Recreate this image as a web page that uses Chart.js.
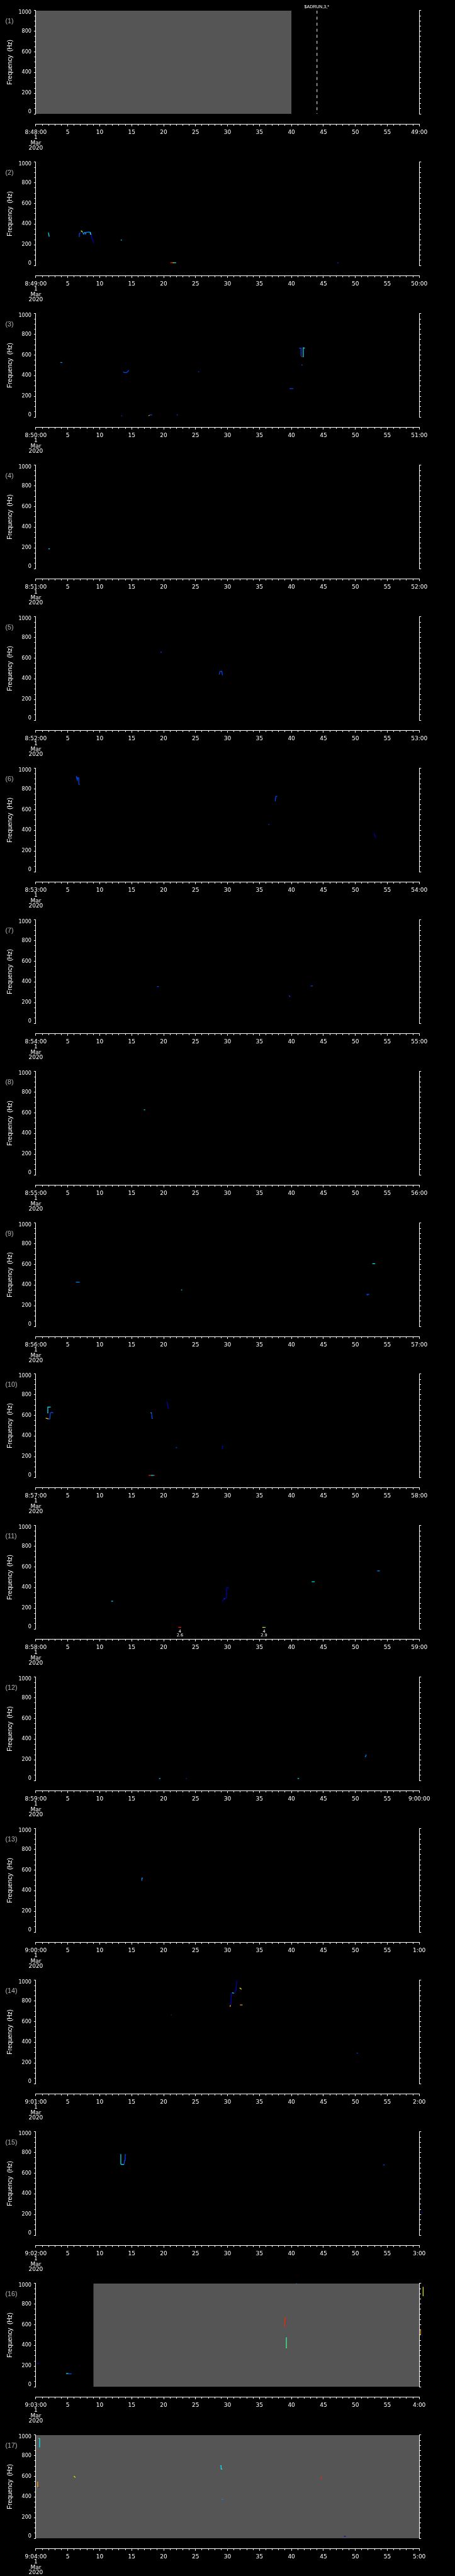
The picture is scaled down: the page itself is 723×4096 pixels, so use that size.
<!DOCTYPE html>
<html><head><meta charset="utf-8">
<script src="https://cdn.jsdelivr.net/npm/chart.js@4.4.1/dist/chart.umd.min.js"></script>
<style>
html,body{margin:0;padding:0;background:#000;}
#wrap{position:relative;width:723px;height:4096px;overflow:hidden;background:#000;}
canvas{position:absolute;left:0;}
</style></head><body><div id="wrap"></div>
<script>
// ---------------- DATA ----------------
const firstLabels = ['8:48:00','8:49:00','8:50:00','8:51:00','8:52:00','8:53:00','8:54:00','8:55:00','8:56:00','8:57:00','8:58:00','8:59:00','9:00:00','9:01:00','9:02:00','9:03:00','9:04:00'];
const lastLabels  = ['49:00','50:00','51:00','52:00','53:00','54:00','55:00','56:00','57:00','58:00','59:00','9:00:00','1:00','2:00','3:00','4:00','5:00'];
const midLabels   = ['5','10','15','20','25','30','35','40','45','50','55'];
const dateLines   = ['1','Mar','2020'];
const yTickLabels = ['0','200','400','600','800','1000'];
const panelNames  = ['(1)','(2)','(3)','(4)','(5)','(6)','(7)','(8)','(9)','(10)','(11)','(12)','(13)','(14)','(15)','(16)','(17)'];
const yTitle = 'Frequency  (Hz)';

// grey (data coverage) intervals in seconds, per panel
const grayFrom = [0, null,null,null,null,null,null,null,null,null,null,null,null,null,null, 9, 0];
const grayTo   = [40,null,null,null,null,null,null,null,null,null,null,null,null,null,null,60,60];

// event marker (panel 1)
const markerPanel = 0, markerTime = 44, markerText = '$ADRUN,3,*';
// small notes under the axis (panel 11)
const notePanel = 10;
const noteTimes = [22.55, 35.7];
const noteTexts = [['4','2.6'],['4','2.9']];

// traces: lv = intensity level (0 low .. 7 high), pts = [seconds, Hz]
const traces01 = [];
const traces02 = [
 {lv:3, pts:[[1.97,320],[2.1,278]]},
 {lv:1, pts:[[6.77,278],[6.8,305],[6.9,313],[7.0,318]]},
 {lv:5, pts:[[7.05,335],[7.2,332],[7.3,320]]},
 {lv:2, pts:[[7.35,318],[7.5,303],[7.6,320],[7.75,318],[7.8,305],[7.9,320],[8.2,323],[8.5,323]]},
 {lv:3, pts:[[8.5,323],[8.55,303],[8.68,303]]},
 {lv:0, pts:[[8.7,303],[8.75,260],[8.9,250],[9.05,218]]},
 {lv:3, pts:[[13.3,249],[13.45,242]]},
 {lv:7, pts:[[21.05,26],[21.4,26]]},
 {lv:5, pts:[[21.4,26],[21.65,26]]},
 {lv:3, pts:[[21.65,26],[21.96,26]]},
 {lv:1, pts:[[47.2,26],[47.35,26]]}
];
const traces03 = [
 {lv:2, pts:[[3.83,528],[4.15,528]]},
 {lv:1, pts:[[13.7,438],[13.8,430],[14.2,430],[14.4,440],[14.55,453]]},
 {lv:1, pts:[[13.35,11],[13.5,11]]},
 {lv:6, pts:[[17.65,11],[17.8,18]]},
 {lv:1, pts:[[17.85,20],[18.2,20]]},
 {lv:1, pts:[[22.05,20],[22.2,20]]},
 {lv:1, pts:[[25.4,438],[25.55,438]]},
 {lv:1, pts:[[39.7,275],[40.3,275]]},
 {lv:1, pts:[[41.55,504],[41.75,504]]},
 {lv:1, pts:[[41.2,667],[41.5,667],[41.5,590]]},
 {lv:7, pts:[[41.55,588],[41.7,584]]},
 {lv:3, pts:[[41.8,582],[41.85,582],[41.85,670],[42.1,667]]}
];
const traces04 = [
 {lv:3, pts:[[1.97,191],[2.2,191]]}
];
const traces05 = [
 {lv:1, pts:[[19.5,658],[19.7,658]]},
 {lv:1, pts:[[28.7,441],[28.8,470],[28.93,473],[29.1,473],[29.2,435]]}
];
const traces06 = [
 {lv:1, pts:[[6.32,924],[6.41,905],[6.5,890],[6.55,909],[6.73,909],[6.73,849],[6.86,840]]},
 {lv:1, pts:[[36.4,457],[36.55,457]]},
 {lv:1, pts:[[37.46,682],[37.55,729],[37.78,729]]},
 {lv:0, pts:[[52.97,372],[53.06,348],[53.15,325]]}
];
const traces07 = [
 {lv:1, pts:[[18.97,356],[19.24,356]]},
 {lv:1, pts:[[39.64,270],[39.77,255]]},
 {lv:1, pts:[[43.0,361],[43.35,361]]}
];
const traces08 = [
 {lv:3, pts:[[16.9,630],[17.1,630]]}
];
const traces09 = [
 {lv:2, pts:[[6.27,428],[6.86,428]]},
 {lv:3, pts:[[22.73,353],[22.9,353]]},
 {lv:1, pts:[[51.74,310],[52.2,310]]},
 {lv:1, pts:[[51.88,310],[51.9,299]]},
 {lv:3, pts:[[52.65,607],[53.1,607]]}
];
const traces10 = [
 {lv:5, pts:[[1.55,574],[1.75,570],[2.0,566]]},
 {lv:3, pts:[[1.8,624],[1.88,624],[1.88,680],[2.33,680]]},
 {lv:1, pts:[[2.05,566],[2.2,564],[2.28,624],[2.47,630],[2.74,624]]},
 {lv:3, pts:[[17.97,626],[18.1,624]]},
 {lv:1, pts:[[18.1,624],[18.2,570],[18.33,570]]},
 {lv:0, pts:[[20.5,733],[20.6,714],[20.7,673],[20.78,667]]},
 {lv:1, pts:[[21.9,288],[22.1,288]]},
 {lv:0, pts:[[29.2,271],[29.2,299],[29.4,299]]},
 {lv:7, pts:[[17.65,19],[17.97,19]]},
 {lv:3, pts:[[17.97,19],[18.45,19]]},
 {lv:7, pts:[[18.45,19],[18.65,19]]}
];
const traces11 = [
 {lv:3, pts:[[11.8,268],[12.08,268]]},
 {lv:0, pts:[[29.2,264],[29.4,292],[29.66,298],[29.75,298],[29.84,399],[30.2,399]]},
 {lv:3, pts:[[29.45,292],[29.6,296]]},
 {lv:3, pts:[[43.17,457],[43.63,457]]},
 {lv:2, pts:[[53.42,562],[53.83,562]]},
 {lv:7, pts:[[22.3,15],[22.75,15]]},
 {lv:5, pts:[[35.45,15],[35.75,15]]},
 {lv:4, pts:[[35.75,15],[35.95,15]]}
];
const traces12 = [
 {lv:3, pts:[[19.28,19],[19.5,19]]},
 {lv:1, pts:[[23.5,19],[23.6,19]]},
 {lv:3, pts:[[40.95,19],[41.2,19]]},
 {lv:2, pts:[[51.5,228],[51.6,232],[51.7,250]]}
];
const traces13 = [
 {lv:2, pts:[[16.56,500],[16.6,522],[16.75,522]]}
];
const traces14 = [
 {lv:1, pts:[[21.15,667],[21.24,667]]},
 {lv:1, pts:[[50.2,296],[50.4,296]]},
 {lv:6, pts:[[30.4,743],[30.45,762]]},
 {lv:0, pts:[[30.53,762],[30.62,880],[30.71,880]]},
 {lv:4, pts:[[30.71,880],[31.0,876]]},
 {lv:0, pts:[[31.0,876],[31.12,876],[31.25,903],[31.35,903],[31.43,993],[31.43,1000]]},
 {lv:5, pts:[[31.85,925],[32.03,925],[32.16,912]]},
 {lv:6, pts:[[31.95,762],[32.35,762]]}
];
const traces15 = [
 {lv:3, pts:[[13.3,785],[13.3,688],[13.45,685],[13.8,685]]},
 {lv:1, pts:[[13.8,685],[13.9,725],[13.98,779],[14.12,779]]},
 {lv:1, pts:[[54.35,680],[54.6,680]]},
 {lv:0, pts:[[60.25,223],[60.5,218]]}
];
const traces16 = [
 {lv:0, pts:[[0.2,231],[0.5,222]]},
 {lv:3, pts:[[4.73,128],[5.1,128]]},
 {lv:1, pts:[[5.1,126],[5.6,124]]},
 {lv:2, pts:[[40.73,998],[40.86,998]]},
 {lv:7, pts:[[38.95,581],[38.95,665],[39.2,663]]},
 {lv:1, pts:[[39.05,482],[39.15,480]]},
 {lv:4, pts:[[39.2,480],[39.2,377],[39.3,377]]},
 {lv:5, pts:[[60.6,967],[60.6,878]]},
 {lv:6, pts:[[60.2,556],[60.2,499],[60.35,499]]},
 {lv:0, pts:[[60.4,499],[60.55,491]]}
];
const traces17 = [
 {lv:5, pts:[[0.45,967],[0.55,967]]},
 {lv:3, pts:[[0.6,967],[0.6,880]]},
 {lv:6, pts:[[0.29,549],[0.29,501],[0.4,501]]},
 {lv:0, pts:[[0.45,497],[0.52,490]]},
 {lv:5, pts:[[5.96,602],[6.19,589]]},
 {lv:3, pts:[[28.85,704],[28.99,704],[28.99,673],[29.17,669]]},
 {lv:5, pts:[[29.05,671],[29.12,669]]},
 {lv:2, pts:[[29.08,377],[29.3,377]]},
 {lv:7, pts:[[44.63,593],[44.7,583]]},
 {lv:0, pts:[[48.2,19],[48.5,19]]}
];
const allTraces = [traces01,traces02,traces03,traces04,traces05,traces06,traces07,traces08,traces09,traces10,traces11,traces12,traces13,traces14,traces15,traces16,traces17];

// ---------------- STYLE / LAYOUT ----------------
const K = 0.705;
const W = 723, H = 4096, N = 17, PH = H / N;
const levelColors = ['#0000c0','#0048ff','#0090ff','#00e8ff','#40ff90','#f0f000','#ffa000','#ff2000'];
const geo = {left: 80.7*K, right: 945*K, top: 24*K, bottom: 256.8*K, axis: 280.7*K};

Chart.defaults.font.family = 'DejaVu Sans';
Chart.defaults.color = '#fff';
Chart.defaults.elements.point.radius = 0;
Chart.defaults.elements.line.tension = 0;

const annot = {
  id: 'annot',
  afterDraw(chart, args, o) {
    const ctx = chart.ctx, xs = chart.scales.x;
    ctx.save();
    ctx.fillStyle = '#b4b4b4';
    ctx.font = '10.7px "Liberation Sans"';
    ctx.textAlign = 'left'; ctx.textBaseline = 'middle';
    ctx.fillText(o.name, 12*K, 47.8*K);
    ctx.fillStyle = '#fff';
    if (o.marker) {
      ctx.font = '7px "Liberation Sans"';
      ctx.textAlign = 'center';
      ctx.fillText(markerText, xs.getPixelForValue(markerTime) - 0.5, 15.5*K);
    }
    if (o.notes) {
      ctx.font = '6.5px "DejaVu Sans"';
      ctx.textAlign = 'center';
      noteTimes.forEach((t, j) => {
        const px = xs.getPixelForValue(t);
        ctx.fillText(noteTexts[j][0], px, 262.4*K);
        ctx.fillText(noteTexts[j][1], px, 272*K);
      });
    }
    ctx.restore();
  }
};

function xLabel(i, v) {
  if (v === 0) return [firstLabels[i]].concat(dateLines);
  if (v === 60) return lastLabels[i];
  if (v % 5 === 0) return midLabels[v/5 - 1];
  return '';
}
function yLabel(v) {
  if (v % 200 !== 0) return '';
  const s = yTickLabels[v/200];
  if (v === 1000) return ['', s];
  if (v === 0) return [s, ''];
  return s;
}

const wrap = document.getElementById('wrap');
for (let i = 0; i < N; i++) {
  const cv = document.createElement('canvas');
  const ch = 241;
  cv.width = W; cv.height = ch;
  cv.style.top = Math.round(i * PH) + 'px';
  wrap.appendChild(cv);

  const datasets = [];
  if (grayFrom[i] !== null) {
    datasets.push({data: [{x: grayFrom[i], y: 1000}, {x: grayTo[i], y: 1000}],
      fill: 'origin', backgroundColor: '#555555', borderColor: 'rgba(0,0,0,0)', borderWidth: 0,
      order: 10, xAxisID: 'x', yAxisID: 'y'});
  }
  if (i === markerPanel) {
    datasets.push({data: [{x: markerTime, y: 1000}, {x: markerTime, y: 0}],
      borderColor: '#fff', borderWidth: 1, borderDash: [4.7, 4.9], fill: false,
      order: 5, xAxisID: 'x', yAxisID: 'y'});
  }
  allTraces[i].forEach(t => {
    datasets.push({data: t.pts.map(p => ({x: p[0], y: p[1]})),
      borderColor: levelColors[t.lv], borderWidth: 1.2, fill: false, clip: false,
      order: 0, xAxisID: 'x', yAxisID: 'y'});
  });

  new Chart(cv, {
    type: 'line',
    data: {datasets},
    plugins: [annot],
    options: {
      animation: false, responsive: false, devicePixelRatio: 1, events: [],
      layout: {padding: {top: geo.top, left: 0, right: 0, bottom: 0}},
      plugins: {
        legend: {display: false}, tooltip: {enabled: false},
        annot: {name: panelNames[i], marker: i === markerPanel, notes: i === notePanel}
      },
      scales: {
        x: {type: 'linear', position: 'bottom', min: 0, max: 60, weight: 1,
          border: {display: true, color: '#fff', width: 1},
          grid: {drawOnChartArea: false, drawTicks: true, tickLength: 3.0, tickColor: '#fff', tickWidth: 1,
            tickBorderDash: c => (c.tick && c.tick.value % 5 === 0) ? [] : [1.9, 20]},
          ticks: {stepSize: 1, autoSkip: false, maxRotation: 0, minRotation: 0, padding: 5.2, color: '#fff',
            font: {family: 'DejaVu Sans', size: 9, lineHeight: 0.94},
            callback: v => xLabel(i, v)},
          afterFit: s => { s.height = ch - geo.axis; }
        },
        gap: {type: 'linear', position: 'bottom', weight: 0, display: true,
          grid: {display: false}, border: {display: false}, ticks: {display: false},
          afterFit: s => { s.height = geo.axis - geo.bottom; }
        },
        y: {type: 'linear', position: 'left', min: 0, max: 1000,
          border: {display: true, color: '#fff', width: 1},
          grid: {drawOnChartArea: false, drawTicks: true, tickLength: 3.0, tickColor: '#fff', tickWidth: 1,
            tickBorderDash: c => (c.tick && c.tick.value % 200 === 0) ? [] : [0, 0.6, 20]},
          ticks: {stepSize: 50, autoSkip: false, padding: 4.0, color: '#fff',
            font: {family: 'DejaVu Sans', size: 8, lineHeight: 0.7},
            callback: v => yLabel(v)},
          title: {display: true, text: yTitle, color: '#fff',
            font: {family: 'Liberation Sans', size: 10}, padding: {top: 10.1, bottom: 0}},
          afterFit: s => { s.width = geo.left; }
        },
        y2: {type: 'linear', position: 'right', min: 0, max: 1000,
          border: {display: true, color: '#fff', width: 1},
          grid: {drawOnChartArea: false, drawTicks: true, tickLength: 3.0, tickColor: '#fff', tickWidth: 1,
            tickBorderDash: c => (c.tick && c.tick.value % 200 === 0) ? [] : [1.9, 20]},
          ticks: {stepSize: 50, display: false, autoSkip: false},
          afterFit: s => { s.width = W - geo.right; }
        }
      }
    }
  });
}
</script>
</body></html>
